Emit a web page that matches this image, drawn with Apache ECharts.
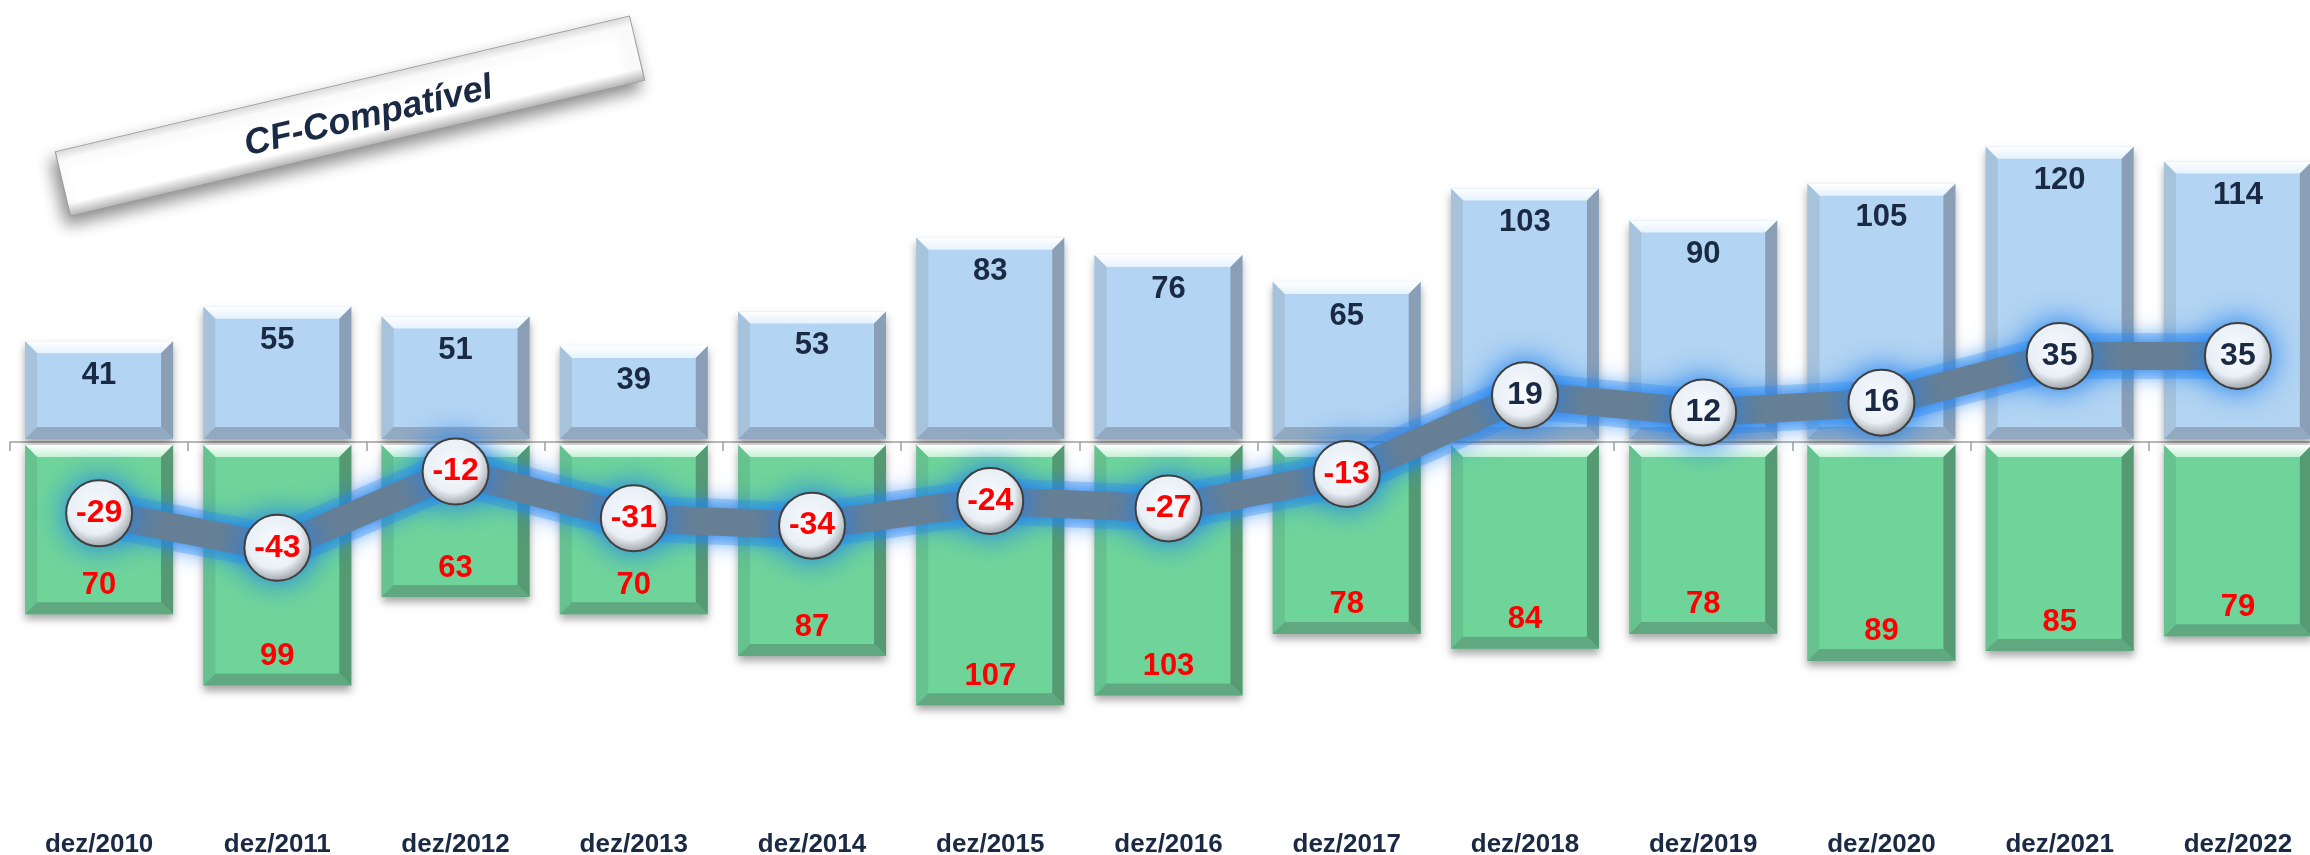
<!DOCTYPE html>
<html lang="pt-BR">
<head>
    <meta charset="UTF-8">
    <style>
        html, body { margin: 0; padding: 0; background: #fff; }
        #chart { width: 2310px; height: 855px; }
    </style>
</head>
<body>
<div id="chart"></div>
<script src="https://cdn.jsdelivr.net/npm/echarts@6.0.0/dist/echarts.min.js"></script>
<script type="text/javascript">
    // dados
    var categorias = ['dez/2010', 'dez/2011', 'dez/2012', 'dez/2013', 'dez/2014', 'dez/2015', 'dez/2016',
        'dez/2017', 'dez/2018', 'dez/2019', 'dez/2020', 'dez/2021', 'dez/2022'];
    var positivos = [41, 55, 51, 39, 53, 83, 76, 65, 103, 90, 105, 120, 114];
    var negativos = [70, 99, 63, 70, 87, 107, 103, 78, 84, 78, 89, 85, 79];
    var saldo = [-29, -43, -12, -31, -34, -24, -27, -13, 19, 12, 16, 35, 35];

    var fonte = '"Liberation Sans", Arial, sans-serif';
    var azul = '#1b2a44';
    var vermelho = '#ff0000';

    var corAzul = {face: '#b3d4f2', top: '#e4f2fd', left: '#a7c2db', right: '#8a9fb5', bottom: '#92a9c1'};
    var corVerde = {face: '#6fd49a', top: '#c4f1d6', left: '#66c28e', right: '#559a73', bottom: '#60a980'};

    var chart = echarts.init(document.getElementById('chart'));

    // barra com bisel (estilo 3D)
    function barraBisel(cores, corTexto, negativa) {
        return function (params, api) {
            var idx = api.value(0);
            var val = api.value(1);
            var p0 = api.coord([idx, 0]);
            var p1 = api.coord([idx, val]);
            var w = api.size([1, 0])[0] * 0.83;
            var l = p0[0] - w / 2, r = p0[0] + w / 2;
            var t, bt;
            if (negativa) { t = p0[1] + 3; bt = p1[1]; } else { t = p1[1]; bt = p0[1] - 3; }
            var b = 12;
            var texto = Math.abs(val);
            var ty = negativa ? bt - 29 : t + 34;
            return {
                type: 'group',
                children: [{
                    type: 'rect',
                    shape: {x: l, y: t, width: w, height: bt - t},
                    style: {
                        fill: cores.face,
                        shadowBlur: 8,
                        shadowOffsetY: 5,
                        shadowColor: 'rgba(0,0,0,0.35)'
                    }
                }, {
                    type: 'polygon',
                    shape: {points: [[l, t], [r, t], [r - b, t + b], [l + b, t + b]]},
                    style: {
                        fill: new echarts.graphic.LinearGradient(0, 0, 0, 1, [
                            {offset: 0, color: '#ffffff'},
                            {offset: 1, color: cores.top}
                        ])
                    }
                }, {
                    type: 'polygon',
                    shape: {points: [[l, t], [l + b, t + b], [l + b, bt - b], [l, bt]]},
                    style: {fill: cores.left}
                }, {
                    type: 'polygon',
                    shape: {points: [[r, t], [r - b, t + b], [r - b, bt - b], [r, bt]]},
                    style: {fill: cores.right}
                }, {
                    type: 'polygon',
                    shape: {points: [[l, bt], [r, bt], [r - b, bt - b], [l + b, bt - b]]},
                    style: {fill: cores.bottom}
                }, {
                    type: 'text',
                    style: {
                        text: String(texto),
                        x: p0[0],
                        y: ty,
                        align: 'center',
                        verticalAlign: 'middle',
                        font: 'bold 31px ' + fonte,
                        fill: corTexto
                    }
                }]
            };
        };
    }

    var posData = [], negData = [], saldoData = [];
    for (var i = 0; i < categorias.length; i++) {
        posData.push([i, positivos[i]]);
        negData.push([i, -negativos[i]]);
        saldoData.push({
            value: saldo[i],
            label: {color: saldo[i] < 0 ? vermelho : azul}
        });
    }

    var option = {
        animation: false,
        backgroundColor: '#ffffff',
        grid: {left: 10, right: -17, top: 73, bottom: 44, outerBoundsMode: 'none'},
        xAxis: [{
            type: 'category',
            data: categorias,
            axisLine: {onZero: true, lineStyle: {color: '#a0a0a0', width: 1.5}},
            axisTick: {show: true, length: 9, lineStyle: {color: '#a0a0a0', width: 1.5}},
            axisLabel: {show: false}
        }, {
            type: 'category',
            data: categorias,
            position: 'bottom',
            axisLine: {show: false, onZero: false},
            axisTick: {show: false},
            axisLabel: {
                margin: 21,
                fontFamily: fonte,
                fontWeight: 'bold',
                fontSize: 26,
                color: azul
            }
        }],
        yAxis: {
            type: 'value',
            min: -150,
            max: 150,
            show: false,
            splitLine: {show: false}
        },
        graphic: [{
            type: 'group',
            x: 350,
            y: 116,
            rotation: 13.3 * Math.PI / 180,
            z: 100,
            children: [{
                type: 'rect',
                shape: {x: -295, y: -33, width: 590, height: 66},
                style: {
                    fill: new echarts.graphic.LinearGradient(0, 0, 0, 1, [
                        {offset: 0, color: '#dcdcdc'},
                        {offset: 0.15, color: '#ffffff'},
                        {offset: 0.8, color: '#ffffff'},
                        {offset: 1, color: '#b5b5b5'}
                    ]),
                    stroke: '#9a9a9a',
                    lineWidth: 1,
                    shadowBlur: 16,
                    shadowOffsetX: -4,
                    shadowOffsetY: 9,
                    shadowColor: 'rgba(0,0,0,0.45)'
                }
            }, {
                type: 'text',
                x: 18,
                y: 5,
                style: {
                    text: 'CF-Compatível',
                    font: 'italic bold 36px ' + fonte,
                    fill: azul,
                    align: 'center',
                    verticalAlign: 'middle'
                }
            }]
        }],
        series: [{
            name: 'positivo',
            type: 'custom',
            renderItem: barraBisel(corAzul, azul, false),
            data: posData,
            z: 2
        }, {
            name: 'negativo',
            type: 'custom',
            renderItem: barraBisel(corVerde, vermelho, true),
            data: negData,
            z: 2
        }, {
            // brilho azul em volta da linha
            name: 'brilho',
            type: 'line',
            data: saldo,
            z: 5,
            symbol: 'none',
            silent: true,
            lineStyle: {
                color: 'rgba(40,135,240,0.28)',
                width: 46,
                shadowBlur: 26,
                shadowColor: '#2a86f0'
            }
        }, {
            name: 'saldo',
            type: 'line',
            data: saldoData,
            z: 10,
            symbol: 'circle',
            symbolSize: 66,
            lineStyle: {
                color: '#667f95',
                width: 28,
                shadowBlur: 20,
                shadowColor: '#1f80ee'
            },
            itemStyle: {
                color: new echarts.graphic.RadialGradient(0.45, 0.4, 0.62, [
                    {offset: 0, color: '#ffffff'},
                    {offset: 0.65, color: '#f6f6f6'},
                    {offset: 1, color: '#9c9c9c'}
                ]),
                borderColor: '#3f3f3f',
                borderWidth: 2,
                shadowBlur: 30,
                shadowColor: '#1f80ee'
            },
            label: {
                show: true,
                position: 'inside',
                fontFamily: fonte,
                fontWeight: 'bold',
                fontSize: 32
            }
        }]
    };

    chart.setOption(option);
</script>
</body>
</html>
